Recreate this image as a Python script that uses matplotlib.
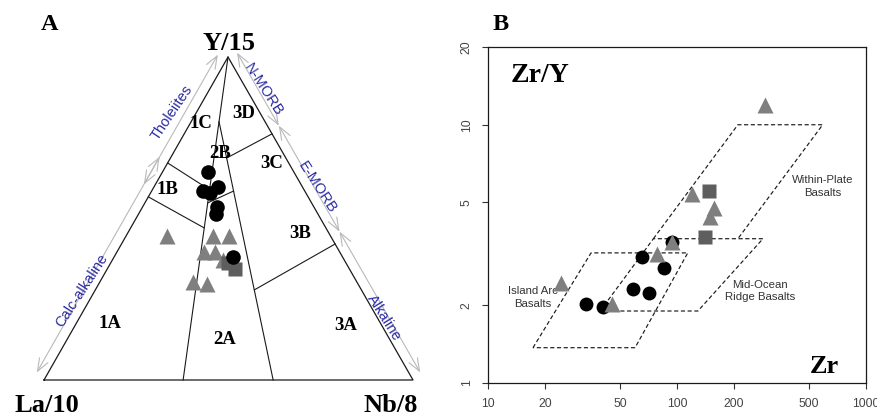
import numpy as np
import matplotlib
matplotlib.use("Agg")
import matplotlib.pyplot as plt
from matplotlib.ticker import FixedLocator, FixedFormatter, NullLocator

# ---------------- data ----------------
# Panel A: compositions as proportions of (La/10, Y/15, Nb/8)
a_circle_la = [0.234, 0.277, 0.230, 0.261, 0.263, 0.277, 0.297]
a_circle_y = [0.644, 0.585, 0.598, 0.579, 0.536, 0.514, 0.381]
a_circle_nb = [0.122, 0.138, 0.173, 0.160, 0.201, 0.209, 0.322]

a_tri_la = [0.444, 0.319, 0.276, 0.368, 0.338, 0.329, 0.445, 0.410]
a_tri_y = [0.446, 0.446, 0.446, 0.396, 0.396, 0.372, 0.303, 0.297]
a_tri_nb = [0.110, 0.235, 0.278, 0.236, 0.266, 0.299, 0.252, 0.293]

a_sq_la = [0.311, 0.320]
a_sq_y = [0.344, 0.362]
a_sq_nb = [0.345, 0.318]

# field boundaries of the La/10-Y/15-Nb/8 diagram, (La, Y, Nb) end points
field_lines = [
    [(0.0, 1.0, 0.0), (0.623, 0.0, 0.377)],      # 1 | 2 boundary
    [(0.1246, 0.80, 0.0754), (0.379, 0.0, 0.621)],  # 2 | 3 boundary
    [(0.328, 0.672, 0.0), (0.256, 0.589, 0.155)],   # 1B | 1C
    [(0.433, 0.567, 0.0), (0.330, 0.471, 0.199)],   # 1A | 1B
    [(0.282, 0.548, 0.170), (0.193, 0.585, 0.222)], # 2A | 2B
    [(0.161, 0.687, 0.152), (0.0, 0.762, 0.238)],   # 3C | 3D
    [(0.290, 0.279, 0.431), (0.0, 0.421, 0.579)],   # 3A | 3B
]
field_names = ["1A", "1B", "1C", "2A", "2B", "3A", "3B", "3C", "3D"]
vertex_names = ["La/10", "Y/15", "Nb/8"]

# series ranges along the outer edges (Y/15 fraction at each end)
left_series = ["Calc-alkaline", "Tholeiites"]
left_ranges = [(0.008, 0.676), (0.590, 0.992)]
right_series = ["N-MORB", "E-MORB", "Alkaline"]
right_ranges = [(0.998, 0.772), (0.772, 0.444), (0.444, 0.008)]

# Panel B: Zr (ppm) vs Zr/Y
b_circle_zr = [33.0, 40.5, 65.3, 85.3, 58.5, 71.1, 94.1]
b_circle_zry = [2.02, 1.97, 3.08, 2.79, 2.31, 2.23, 3.52]
b_tri_zr = [292, 120, 157, 150, 94, 78.3, 24.3, 45.3]
b_tri_zry = [11.95, 5.40, 4.77, 4.40, 3.52, 3.16, 2.44, 2.02]
b_sq_zr = [147.5, 140.6]
b_sq_zry = [5.55, 3.68]

# tectonic fields (Pearce & Norry)
iab_zr = [17.3, 35.1, 114, 60.0, 17.3]
iab_zry = [1.37, 3.19, 3.19, 1.37, 1.37]
morb_zr = [39.2, 75, 285, 129, 39.2]
morb_zry = [1.90, 3.62, 3.62, 1.90, 1.90]
wpb_zr = [75, 210, 590, 210]
wpb_zry = [3.62, 10, 10, 3.62]

x_ticks = [10, 20, 50, 100, 200, 500, 1000]
y_ticks = [1, 2, 5, 10, 20]

# ---------------- styles ----------------
SERIF = "Liberation Serif"
SANS = "Liberation Sans"
BLUE = "#2a2aa2"
TRI_C = "#7f7f7f"
SQ_C = "#5e5e5e"
ARROW_C = "#b9b9b9"

FW, FH, DPI = 878, 420, 100
fig = plt.figure(figsize=(FW / DPI, FH / DPI), dpi=DPI)
fig.patch.set_facecolor("white")

# ---------------- Panel A ----------------
axA = fig.add_axes([0, 0, 440 / FW, 1])
axA.set_xlim(0, 440)
axA.set_ylim(420, 0)
axA.axis("off")

V_LA = np.array([44.0, 380.0])
V_Y = np.array([228.0, 57.0])
V_NB = np.array([413.0, 380.0])


def tern(la, y, nb):
    la, y, nb = np.asarray(la, float), np.asarray(y, float), np.asarray(nb, float)
    s = la + y + nb
    x = (la * V_LA[0] + y * V_Y[0] + nb * V_NB[0]) / s
    yy = (la * V_LA[1] + y * V_Y[1] + nb * V_NB[1]) / s
    return x, yy


# outer triangle
tx, ty = tern([1, 0, 0, 1], [0, 1, 0, 0], [0, 0, 1, 0])
axA.plot(tx, ty, color="#1a1a1a", lw=0.9, zorder=2)

for p, q in field_lines:
    x, y = tern(*zip(p, q))
    axA.plot(x, y, color="#1a1a1a", lw=0.8, zorder=2)

# edge arrows, drawn just outside the triangle
OFF = 10.0
left_dir = V_Y - V_LA
left_n = np.array([-left_dir[1], left_dir[0]]) / np.hypot(*left_dir)
if left_n[0] > 0:
    left_n = -left_n
right_dir = V_NB - V_Y
right_n = np.array([right_dir[1], -right_dir[0]]) / np.hypot(*right_dir)
if right_n[0] < 0:
    right_n = -right_n

arrow_kw = dict(arrowstyle="<->,head_length=0.9,head_width=0.35",
                color=ARROW_C, lw=0.8, shrinkA=0, shrinkB=0)

for (y0, y1) in left_ranges:
    p0 = np.array(tern(1 - y0, y0, 0)) + OFF * left_n
    p1 = np.array(tern(1 - y1, y1, 0)) + OFF * left_n
    axA.annotate("", xy=p1, xytext=p0, arrowprops=arrow_kw, zorder=1)
for (y0, y1) in right_ranges:
    p0 = np.array(tern(0, y0, 1 - y0)) + OFF * right_n
    p1 = np.array(tern(0, y1, 1 - y1)) + OFF * right_n
    axA.annotate("", xy=p1, xytext=p0, arrowprops=arrow_kw, zorder=1)

series_pos = {
    "Calc-alkaline": (82, 290, 57),
    "Tholeiites": (172, 113, 56),
    "N-MORB": (263, 90, -57),
    "E-MORB": (317, 187, -57),
    "Alkaline": (384, 318, -58),
}
for name in left_series + right_series:
    x, y, r = series_pos[name]
    axA.text(x, y, name, color=BLUE, fontsize=10.5, family=SANS,
             rotation=r, rotation_mode="anchor", ha="center", va="center",
             zorder=3)

field_pos = {
    "1A": (110, 323), "1B": (167, 189), "1C": (201, 124),
    "2A": (225, 340), "2B": (220, 154),
    "3A": (346, 325), "3B": (300, 233), "3C": (272, 163), "3D": (244, 113),
}
for name in field_names:
    x, y = field_pos[name]
    axA.text(x, y, name, fontsize=13.5, family=SERIF, weight="bold",
             ha="center", va="center", zorder=3)

vertex_pos = {"La/10": (47, 405), "Y/15": (229, 44), "Nb/8": (391, 405)}
for name in vertex_names:
    x, y = vertex_pos[name]
    axA.text(x, y, name, fontsize=19, family=SERIF, weight="bold",
             ha="center", va="center", zorder=3)

axA.text(50, 25, "A", fontsize=17.5, family=SERIF, weight="bold",
         ha="center", va="center")

cx, cy = tern(a_circle_la, a_circle_y, a_circle_nb)
tx_, ty_ = tern(a_tri_la, a_tri_y, a_tri_nb)
sx, sy = tern(a_sq_la, a_sq_y, a_sq_nb)
axA.plot(tx_, ty_, "^", ms=12, color=TRI_C, mec="none", zorder=4)
axA.plot(sx, sy, "s", ms=10, color=SQ_C, mec="none", zorder=5)
axA.plot(cx, cy, "o", ms=10.5, color="black", mec="none", zorder=6)

# ---------------- Panel B ----------------
axB = fig.add_axes([488 / FW, (FH - 383) / FH, 378 / FW, 336 / FH])
axB.set_xscale("log")
axB.set_yscale("log")
axB.set_xlim(10, 1000)
axB.set_ylim(1, 20)

for sp in axB.spines.values():
    sp.set_linewidth(0.9)
    sp.set_color("#1a1a1a")

axB.xaxis.set_major_locator(FixedLocator(x_ticks))
axB.xaxis.set_major_formatter(FixedFormatter([str(v) for v in x_ticks]))
axB.yaxis.set_major_locator(FixedLocator(y_ticks))
axB.yaxis.set_major_formatter(FixedFormatter([str(v) for v in y_ticks]))
axB.xaxis.set_minor_locator(NullLocator())
axB.yaxis.set_minor_locator(NullLocator())
axB.tick_params(axis="both", direction="out", length=4, width=0.8,
                color="#333333", labelcolor="#444444", labelsize=8.8, pad=7)
for lab in axB.get_xticklabels() + axB.get_yticklabels():
    lab.set_family(SANS)
for lab in axB.get_yticklabels():
    lab.set_rotation(90)
    lab.set_va("center")

dash = (0, (3.5, 2.2))
for xs, ys in [(iab_zr, iab_zry), (morb_zr, morb_zry), (wpb_zr, wpb_zry)]:
    axB.plot(xs, ys, color="#1a1a1a", lw=0.85, ls=dash, zorder=2)

lab_kw = dict(fontsize=8.2, family=SANS, color="#333333", ha="center",
              va="center", linespacing=1.35, zorder=3)
axB.text(592, 5.75, "Within-Plate\nBasalts", **lab_kw)
axB.text(275, 2.27, "Mid-Ocean\nRidge Basalts", **lab_kw)
axB.text(17.3, 2.15, "Island Arc\nBasalts", **lab_kw)

axB.plot(b_circle_zr, b_circle_zry, "o", ms=10, color="black", mec="none",
         zorder=4)
axB.plot(b_sq_zr, b_sq_zry, "s", ms=10, color=SQ_C, mec="none", zorder=5)
axB.plot(b_tri_zr, b_tri_zry, "^", ms=12, color=TRI_C, mec="none", zorder=6)

axB.text(0.138, 0.916, "Zr/Y", transform=axB.transAxes, fontsize=20,
         family=SERIF, weight="bold", ha="center", va="center")
axB.text(0.891, 0.048, "Zr", transform=axB.transAxes, fontsize=19,
         family=SERIF, weight="bold", ha="center", va="center")

fig.text(501 / FW, 1 - 25 / FH, "B", fontsize=17.5, family=SERIF,
         weight="bold", ha="center", va="center")

fig.savefig("out.png", dpi=DPI, facecolor="white")
